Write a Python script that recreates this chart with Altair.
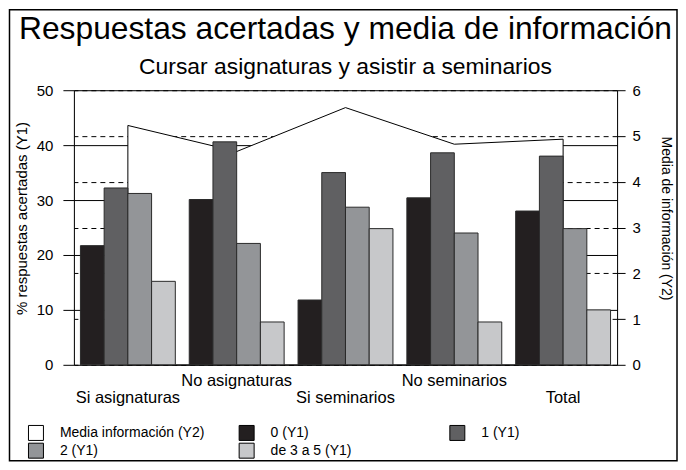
import altair as alt
import pandas as pd

groups = ["Si asignaturas", "No asignaturas", "Si seminarios", "No seminarios", "Total"]
series = ["0 (Y1)", "1 (Y1)", "2 (Y1)", "de 3 a 5 (Y1)"]
media_label = "Media información (Y2)"
v_0 = [21.7, 30.1, 11.8, 30.4, 28.0]
v_1 = [32.2, 40.6, 35.0, 38.6, 38.0]
v_2 = [31.2, 22.1, 28.7, 24.0, 24.8]
v_3 = [15.2, 7.8, 24.8, 7.8, 10.0]
media = [5.23, 4.66, 5.62, 4.82, 4.93]
y1_ticks = [0, 10, 20, 30, 40, 50]
y2_ticks = [0, 1, 2, 3, 4, 5, 6]
colors = ["#ffffff", "#231f20", "#606062", "#939598", "#c7c8ca"]

rows = []
for s, vals in zip(series, [v_0, v_1, v_2, v_3]):
    for g, v in zip(groups, vals):
        rows.append({"grupo": g, "serie": s, "valor": v})
bars_df = pd.DataFrame(rows)
media_df = pd.DataFrame({"grupo": groups, "media": media, "serie": [media_label] * len(groups)})

FONT = "Liberation Sans"

label_expr = ("indexof(['No asignaturas','No seminarios'], datum.label) >= 0 "
              "? [datum.label] : ['', datum.label]")
x_axis = alt.Axis(title=None, ticks=False, domain=False, labelAngle=0, labelFontSize=16.5,
                  labelPadding=8, labelLineHeight=17, labelExpr=label_expr, labelColor="black",
                  labelFont=FONT)
x_scale = alt.Scale(paddingInner=0.128, paddingOuter=0.06)

fill_scale = alt.Scale(domain=[media_label] + series, range=colors)
legend = alt.Legend(title=None, orient="none", legendX=-46, legendY=335, columns=3,
                    direction="horizontal",
                    symbolType="square", symbolSize=225, symbolStrokeColor="black",
                    symbolStrokeWidth=1, symbolOpacity=1, labelFontSize=14, labelFont=FONT,
                    labelColor="black", labelOffset=16, columnPadding=32, rowPadding=-2,
                    gridAlign="all")

area = alt.Chart(media_df).mark_area(stroke="black", strokeWidth=1, fillOpacity=1,
                                     interpolate="linear").encode(
    x=alt.X("grupo:N", sort=groups, scale=x_scale, axis=x_axis, bandPosition=0.5),
    y=alt.Y("media:Q", stack=None, scale=alt.Scale(domain=[0, 6], nice=False),
            axis=alt.Axis(orient="right", values=y2_ticks, title="Media de información (Y2)",
                          grid=True, gridDash=[5, 4], gridColor="black", gridOpacity=1,
                          tickSize=8, tickColor="black", domainColor="black",
                          labelFontSize=15, labelPadding=7, labelColor="black", labelFont=FONT,
                          titleFontSize=14, titleFont=FONT, titleFontWeight="normal",
                          titleColor="black", titlePadding=18, titleY=128)),
    fill=alt.Fill("serie:N", scale=fill_scale, legend=legend),
)

bars = alt.Chart(bars_df).mark_bar(stroke="#2a2a2a", strokeWidth=1, fillOpacity=1).encode(
    x=alt.X("grupo:N", sort=groups, scale=x_scale, axis=x_axis),
    xOffset=alt.XOffset("serie:N", sort=series, scale=alt.Scale(paddingInner=0, paddingOuter=0)),
    y=alt.Y("valor:Q", stack=None, scale=alt.Scale(domain=[0, 50], nice=False),
            axis=alt.Axis(orient="left", values=y1_ticks, title="% respuestas acertadas (Y1)",
                          grid=True, gridColor="black", gridOpacity=1,
                          tickSize=11, tickColor="black", domainColor="black",
                          labelFontSize=15, labelPadding=10, labelColor="black", labelFont=FONT,
                          titleFontSize=15, titleFont=FONT, titleFontWeight="normal",
                          titleColor="black", titlePadding=7, titleY=128)),
    fill=alt.Fill("serie:N", scale=fill_scale, legend=legend),
)

frame = alt.Chart(pd.DataFrame({"k": [0]})).mark_rect(
    filled=False, stroke="black", strokeWidth=1.5).encode(
    x=alt.value(-64.5), x2=alt.value(604), y=alt.value(-80.5), y2=alt.value(371)
)

chart = alt.layer(area, bars, frame).resolve_scale(y="independent").properties(
    width=544, height=275, padding=0,
    title=alt.Title(text="Respuestas acertadas y media de información",
                    subtitle="Cursar asignaturas y asistir a seminarios",
                    font=FONT, fontSize=31.8, fontWeight="normal", color="black",
                    subtitleFont=FONT, subtitleFontSize=22.9, subtitleColor="black",
                    anchor="middle", offset=-69.5, subtitlePadding=10),
).configure_view(stroke="black", strokeWidth=1).configure(background="white")

chart.save("out.html", embed_options={"renderer": "svg", "actions": False})
